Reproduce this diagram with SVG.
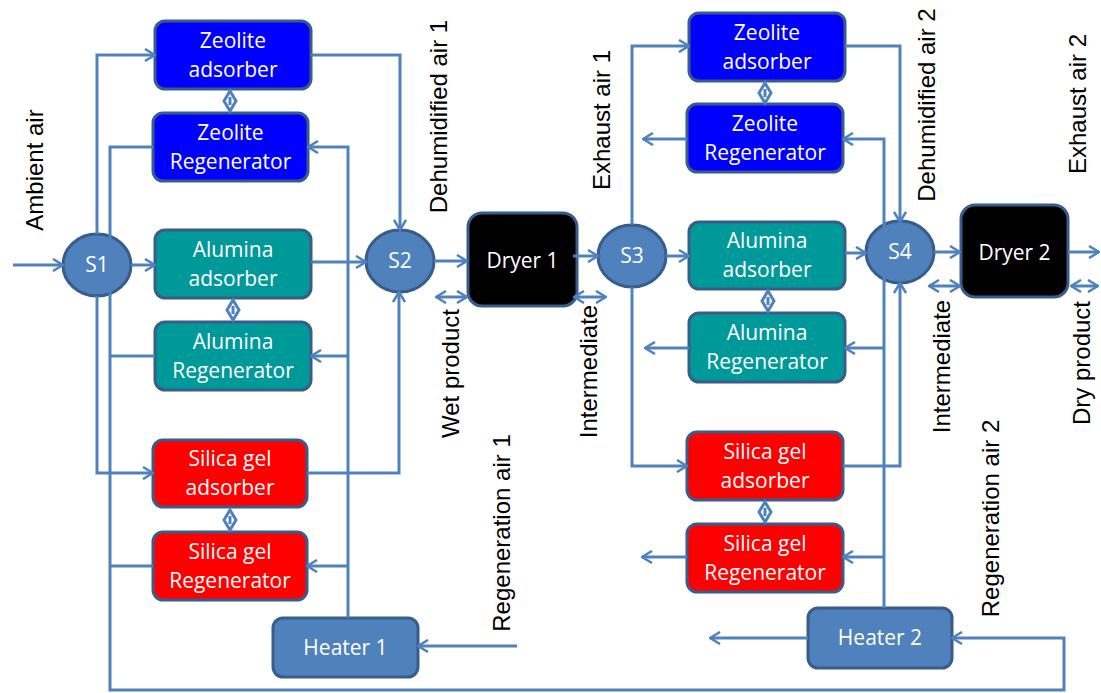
<svg xmlns="http://www.w3.org/2000/svg" width="1101" height="693" viewBox="0 0 1101 693">
<defs>
<marker id="ah" viewBox="0 0 12 14" refX="11" refY="7" markerUnits="userSpaceOnUse" markerWidth="12" markerHeight="14" orient="auto-start-reverse">
<path d="M1,1 L11,7 L1,13" fill="none" stroke="#4F81BD" stroke-width="2.5"/>
</marker>
</defs>
<style>
.bx{stroke:#385D8A;stroke-width:3}
.zeo{fill:#0000FF}
.alu{fill:#009999}
.sil{fill:#FF0000}
.blu{fill:#4F81BD}
.dry{fill:#000000}
.nt{font-family:"Open Sans","Noto Sans",sans-serif;font-size:21px;fill:#FFFFFF;text-anchor:middle}
.lb{font-family:"Liberation Sans",Arial,sans-serif;font-size:24px;fill:#000000;text-anchor:middle}
.c{fill:none;stroke:#4F81BD;stroke-width:3}
.a{marker-end:url(#ah)}
.d{marker-start:url(#ah);marker-end:url(#ah)}
.dm{fill:#FFFFFF;stroke:#4F81BD;stroke-width:3}
</style>
<rect width="1101" height="693" fill="#FFFFFF"/>

<g id="zeolite-adsorber-1"><rect class="bx zeo" x="155" y="21" width="156" height="68" rx="10"/><text class="nt" x="233" y="48">Zeolite</text><text class="nt" x="233" y="77">adsorber</text></g>
<g id="zeolite-regenerator-1"><rect class="bx zeo" x="153" y="113" width="155" height="68" rx="10"/><text class="nt" x="230.5" y="140">Zeolite</text><text class="nt" x="230.5" y="169">Regenerator</text></g>
<g id="alumina-adsorber-1"><rect class="bx alu" x="155" y="230" width="156" height="68" rx="10"/><text class="nt" x="233" y="257">Alumina</text><text class="nt" x="233" y="286">adsorber</text></g>
<g id="alumina-regenerator-1"><rect class="bx alu" x="155" y="322" width="156" height="68" rx="10"/><text class="nt" x="233" y="349">Alumina</text><text class="nt" x="233" y="378">Regenerator</text></g>
<g id="silica-adsorber-1"><rect class="bx sil" x="153" y="440" width="154" height="67" rx="10"/><text class="nt" x="230" y="466">Silica gel</text><text class="nt" x="230" y="495">adsorber</text></g>
<g id="silica-regenerator-1"><rect class="bx sil" x="153" y="532" width="154" height="68" rx="10"/><text class="nt" x="230" y="559">Silica gel</text><text class="nt" x="230" y="588">Regenerator</text></g>
<g id="heater-1"><rect class="bx blu" x="273" y="618" width="145" height="59" rx="10"/><text class="nt" x="345.5" y="655">Heater 1</text></g>
<g id="s1"><ellipse class="bx blu" cx="97" cy="265" rx="34" ry="31"/><text class="nt" x="97" y="272">S1</text></g>
<g id="s2"><ellipse class="bx blu" cx="400" cy="261" rx="34" ry="31"/><text class="nt" x="400" y="268">S2</text></g>
<g id="dryer-1"><rect class="bx dry" x="468" y="213" width="109" height="93" rx="14"/><text class="nt" x="522.5" y="268">Dryer 1</text></g>
<g id="s3"><ellipse class="bx blu" cx="632" cy="256" rx="34" ry="31"/><text class="nt" x="632" y="263">S3</text></g>

<g id="zeolite-adsorber-2"><rect class="bx zeo" x="689" y="13" width="156" height="68" rx="10"/><text class="nt" x="767" y="40">Zeolite</text><text class="nt" x="767" y="69">adsorber</text></g>
<g id="zeolite-regenerator-2"><rect class="bx zeo" x="687" y="104" width="156" height="68" rx="10"/><text class="nt" x="765" y="131">Zeolite</text><text class="nt" x="765" y="160">Regenerator</text></g>
<g id="alumina-adsorber-2"><rect class="bx alu" x="689" y="222" width="156" height="67" rx="10"/><text class="nt" x="767" y="248">Alumina</text><text class="nt" x="767" y="277">adsorber</text></g>
<g id="alumina-regenerator-2"><rect class="bx alu" x="689" y="313" width="156" height="69" rx="10"/><text class="nt" x="767" y="340">Alumina</text><text class="nt" x="767" y="369">Regenerator</text></g>
<g id="silica-adsorber-2"><rect class="bx sil" x="687" y="432" width="156" height="68" rx="10"/><text class="nt" x="765" y="459">Silica gel</text><text class="nt" x="765" y="488">adsorber</text></g>
<g id="silica-regenerator-2"><rect class="bx sil" x="687" y="524" width="156" height="68" rx="10"/><text class="nt" x="765" y="551">Silica gel</text><text class="nt" x="765" y="580">Regenerator</text></g>
<g id="heater-2"><rect class="bx blu" x="808" y="608" width="144" height="60" rx="10"/><text class="nt" x="880" y="645">Heater 2</text></g>
<g id="s4"><ellipse class="bx blu" cx="900" cy="252" rx="34" ry="31"/><text class="nt" x="900" y="259">S4</text></g>
<g id="dryer-2"><rect class="bx dry" x="961" y="205" width="107" height="92" rx="14"/><text class="nt" x="1014.5" y="260">Dryer 2</text></g>

<g id="connectors">
<path class="c a" d="M13,265 H63"/>
<path class="c a" d="M131,265 H155"/>
<path class="c a" d="M97,234 V55 H155"/>
<path class="c a" d="M97,296 V473 H153"/>
<path class="c a" d="M153,147 H110 V690 H1064 V638 H952"/>
<path class="c" d="M155,356 H110"/>
<path class="c" d="M153,566 H110"/>
<path class="c a" d="M348,618 V147 H308"/>
<path class="c a" d="M348,356 H311"/>
<path class="c a" d="M348,566 H307"/>
<path class="c a" d="M517,646 H418"/>
<path class="c a" d="M311,55 H400 V230"/>
<path class="c a" d="M311,262 H366"/>
<path class="c a" d="M307,473 H399 V292"/>
<path class="c a" d="M434,261 H467"/>
<path class="c d" d="M436,297 H467"/>
<path class="c d" d="M574,297 H606"/>
<path class="c a" d="M573,256 H598"/>
<path class="c a" d="M632,225 V46 H689"/>
<path class="c a" d="M666,256 H689"/>
<path class="c a" d="M632,287 V466 H687"/>
<path class="c a" d="M687,139 H643"/>
<path class="c a" d="M689,348 H645"/>
<path class="c a" d="M687,557 H642"/>
<path class="c a" d="M808,638 H710"/>
<path class="c a" d="M884,608 V139 H843"/>
<path class="c a" d="M884,348 H845"/>
<path class="c a" d="M884,557 H843"/>
<path class="c a" d="M845,46 H900 V222"/>
<path class="c a" d="M845,253 H866"/>
<path class="c a" d="M843,466 H900 V283"/>
<path class="c a" d="M934,252 H960"/>
<path class="c a" d="M1068,252 H1099"/>
<path class="c d" d="M929,286 H960"/>
<path class="c d" d="M1071,286 H1098"/>
<polygon class="dm" points="230,91 236,101 230,111 224,101"/><path class="c" d="M230,97 V105" stroke-width="1.5"/>
<polygon class="dm" points="233,300 239,310 233,320 227,310"/><path class="c" d="M233,306 V314" stroke-width="1.5"/>
<polygon class="dm" points="230,510 236,520 230,530 224,520"/><path class="c" d="M230,516 V524" stroke-width="1.5"/>
<polygon class="dm" points="765,83 771,93 765,103 759,93"/><path class="c" d="M765,89 V97" stroke-width="1.5"/>
<polygon class="dm" points="768,291 774,301 768,311 762,301"/><path class="c" d="M768,297 V305" stroke-width="1.5"/>
<polygon class="dm" points="765,502 771,512 765,522 759,512"/><path class="c" d="M765,508 V516" stroke-width="1.5"/>
</g>

<g id="labels">
<text class="lb" transform="translate(43,170) rotate(-90)">Ambient air</text>
<text class="lb" transform="translate(447,116.5) rotate(-90)">Dehumidified air 1</text>
<text class="lb" transform="translate(610,120) rotate(-90)">Exhaust air 1</text>
<text class="lb" transform="translate(459,373.5) rotate(-90)">Wet product</text>
<text class="lb" transform="translate(597,371.5) rotate(-90)">Intermediate</text>
<text class="lb" transform="translate(510,533) rotate(-90)">Regeneration air 1</text>
<text class="lb" transform="translate(935,105) rotate(-90)">Dehumidified air 2</text>
<text class="lb" transform="translate(1086,104) rotate(-90)">Exhaust air 2</text>
<text class="lb" transform="translate(950,366.5) rotate(-90)">Intermediate</text>
<text class="lb" transform="translate(1090,363) rotate(-90)">Dry product</text>
<text class="lb" transform="translate(999,518.5) rotate(-90)">Regeneration air 2</text>
</g>
</svg>
